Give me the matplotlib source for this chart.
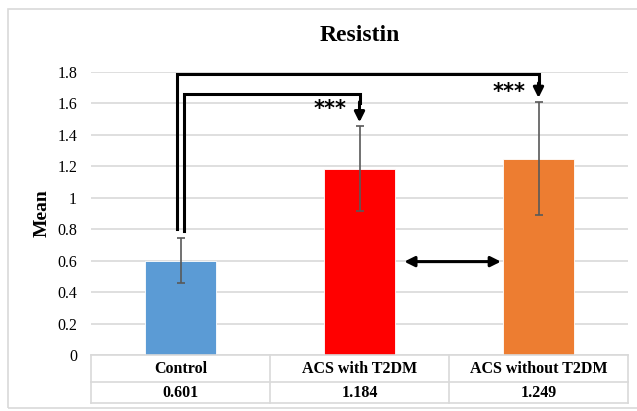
import numpy as np
import matplotlib.pyplot as plt
from matplotlib.patches import Rectangle
import matplotlib.transforms as mtransforms

# data
groups = ['Control', 'ACS with T2DM', 'ACS without T2DM']
means = [0.601, 1.184, 1.249]
errors = [0.14, 0.27, 0.36]
value_labels = ['0.601', '1.184', '1.249']
colors = ['#5B9BD5', '#FF0000', '#ED7D31']
yticks = [0, 0.2, 0.4, 0.6, 0.8, 1, 1.2, 1.4, 1.6, 1.8]

plt.rcParams['font.family'] = ['Liberation Serif', 'DejaVu Serif']

fig = plt.figure(figsize=(6.37, 4.11), dpi=100)
ax = fig.add_axes([91/637, 56/411, 537/637, 283/411])

x = np.arange(len(groups))
ax.bar(x, means, width=0.40, color=colors, edgecolor='white', linewidth=0.6, zorder=2)
ax.errorbar(x, means, yerr=errors, fmt='none', ecolor='#595959', elinewidth=1.2,
            capsize=3, capthick=1.2, zorder=3)

ax.set_xlim(-0.5, 2.5)
ax.set_ylim(0, 1.8)
ax.set_yticks(yticks)
ax.set_yticklabels([('%g' % t) for t in yticks], fontsize=11.5)
ax.tick_params(axis='y', length=0, pad=10)
ax.set_xticks([])
ax.grid(axis='y', color='#d9d9d9', linewidth=1.2, zorder=0)
for s in ['top', 'right', 'left', 'bottom']:
    ax.spines[s].set_visible(False)
ax.set_ylabel('Mean', fontsize=14, fontweight='bold', labelpad=5)
ax.set_title('Resistin', fontsize=17, fontweight='bold', pad=22)

# significance brackets
lw = 2.2
# inner bracket Control -> ACS with T2DM
ax.plot([0.018, 0.018, 1.0, 1.0], [0.79, 1.662, 1.662, 1.60], color='black',
        lw=lw, clip_on=False, zorder=4, solid_joinstyle='miter')
ax.annotate('', xy=(1.0, 1.48), xytext=(1.0, 1.61),
            arrowprops=dict(arrowstyle='-|>', color='black', lw=lw, mutation_scale=15,
                            shrinkA=0, shrinkB=0), zorder=4)
ax.text(0.93, 1.565, '***', ha='right', va='center', fontsize=15, fontweight='bold',
        family='DejaVu Sans')
# outer bracket Control -> ACS without T2DM
ax.plot([-0.02, -0.02, 2.0, 2.0], [0.80, 1.79, 1.79, 1.72], color='black',
        lw=lw, clip_on=False, zorder=4, solid_joinstyle='miter')
ax.annotate('', xy=(2.0, 1.635), xytext=(2.0, 1.73),
            arrowprops=dict(arrowstyle='-|>', color='black', lw=lw, mutation_scale=15,
                            shrinkA=0, shrinkB=0), zorder=4)
ax.text(1.93, 1.675, '***', ha='right', va='center', fontsize=15, fontweight='bold',
        family='DejaVu Sans')
# double arrow between the T2DM groups
ax.annotate('', xy=(1.25, 0.594), xytext=(1.79, 0.594),
            arrowprops=dict(arrowstyle='<|-|>', color='black', lw=lw, mutation_scale=15,
                            shrinkA=0, shrinkB=0), zorder=4)

# data table under the axis
trans = mtransforms.blended_transform_factory(ax.transData, ax.transAxes)
px = 1/283
row1 = -27*px
row2 = -48*px
tcol = '#d9d9d9'
for yy in [0, row1, row2]:
    ax.plot([-0.5, 2.5], [yy, yy], color=tcol, lw=1.2, transform=trans, clip_on=False)
for xx in [-0.5, 0.5, 1.5, 2.5]:
    ax.plot([xx, xx], [0, row2], color=tcol, lw=1.2, transform=trans, clip_on=False)
for i in range(len(groups)):
    ax.text(x[i], row1/2, groups[i], ha='center', va='center', fontsize=11.5,
            fontweight='bold', transform=trans)
    ax.text(x[i], (row1+row2)/2, value_labels[i], ha='center', va='center', fontsize=11.5,
            fontweight='bold', transform=trans)

# chart frame
fig.patches.append(Rectangle((8/637, 3/411), 640/637, 399/411, transform=fig.transFigure,
                             fill=False, edgecolor='#d9d9d9', lw=1.2))

fig.savefig('out.png', dpi=100)
